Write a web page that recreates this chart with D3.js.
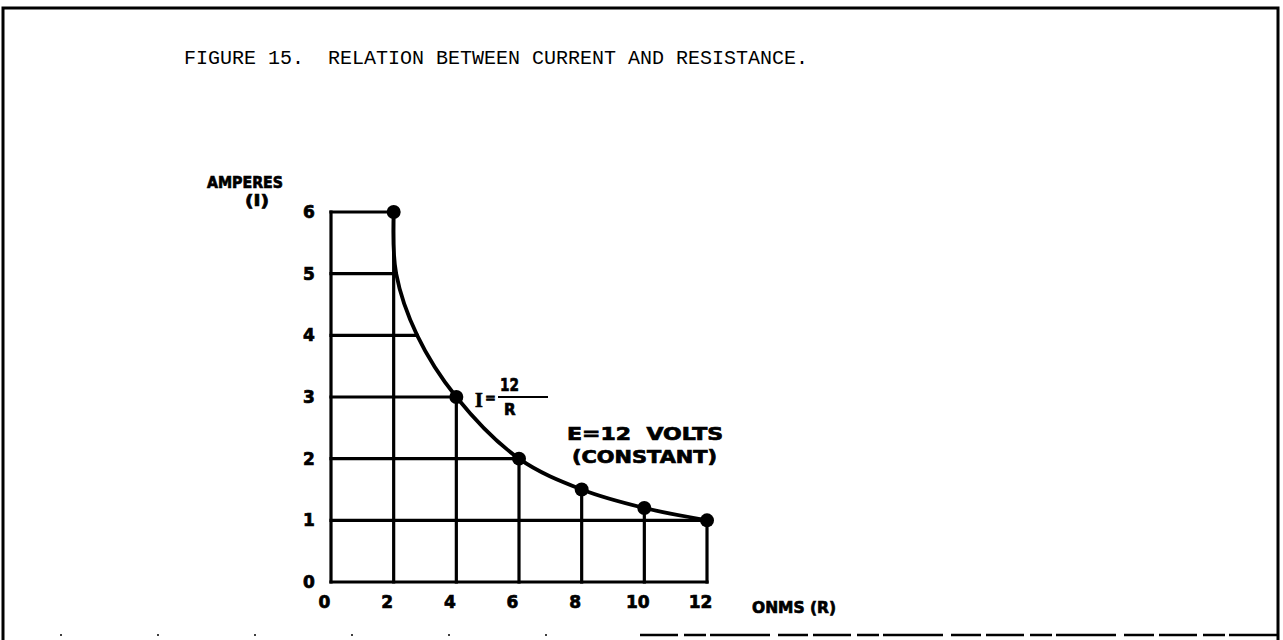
<!DOCTYPE html>
<html>
<head>
<meta charset="utf-8">
<script src="https://cdn.jsdelivr.net/npm/d3@7"></script>
<style>
  html, body { margin: 0; padding: 0; background: #fff; }
  svg { display: block; }
</style>
</head>
<body>
<svg id="chart" width="1283" height="640"></svg>
<script>
// Measured current at each resistance, E = 12 V held constant
const resistance = [2, 4, 6, 8, 10, 12];
const current = [6, 3, 2, 1.5, 1.2, 1];

// Extra points the hand-drawn curve passes through between R = 2 and R = 4
const curveKnotR = [2.08, 2.75];
const curveKnotI = [5, 4];

const xTickValues = [0, 2, 4, 6, 8, 10, 12];
const yTickValues = [0, 1, 2, 3, 4, 5, 6];

const titleText = "FIGURE 15.  RELATION BETWEEN CURRENT AND RESISTANCE.";
const yAxisTitle = "AMPERES";
const yAxisSymbol = "(I)";
const xAxisTitle = "ONMS (R)";
const noteLine1 = "E=12  VOLTS";
const noteLine2 = "(CONSTANT)";

const svg = d3.select("#chart");
const ink = "#000";
const boldFont = "'DejaVu Sans', 'Liberation Sans', sans-serif";

const x = d3.scaleLinear().domain([0, 12]).range([331, 707]);
const y = d3.scaleLinear().domain([0, 6]).range([582, 212]);

// page frame
const frame = svg.append("g").attr("stroke", ink).attr("fill", "none");
frame.append("path").attr("d", "M3,640 L3,8 L1278,8 L1278,640").attr("stroke-width", 3);
frame.append("line")
  .attr("x1", 640).attr("x2", 1278).attr("y1", 635).attr("y2", 635)
  .attr("stroke-width", 2.5).attr("stroke-dasharray", "38 6 22 4 60 8 30 5");
frame.append("line")
  .attr("x1", 60).attr("x2", 640).attr("y1", 635).attr("y2", 635)
  .attr("stroke-width", 1.5).attr("stroke-dasharray", "2 95");

// title
svg.append("text")
  .attr("x", 496).attr("y", 64)
  .attr("text-anchor", "middle")
  .attr("font-family", "'Liberation Mono', 'DejaVu Sans Mono', monospace")
  .attr("font-size", 20)
  .attr("fill", ink)
  .attr("xml:space", "preserve")
  .style("white-space", "pre")
  .text(titleText);

// curve points: data points plus the drawn knots, ordered by resistance
const curvePts = resistance.map((r, i) => ({ r, i: current[i] }))
  .concat(curveKnotR.map((r, k) => ({ r, i: curveKnotI[k] })))
  .sort((a, b) => a.r - b.r);

// resistance at which each horizontal rule meets the curve
const rowEnd = v => {
  if (v === 0) return 12;
  const p = curvePts.find(d => d.i === v);
  return p ? p.r : 0;
};

const grid = svg.append("g")
  .attr("stroke", ink)
  .attr("stroke-width", 3.2)
  .attr("stroke-linecap", "square");

// horizontal rules from the current axis out to the curve
grid.selectAll("line.h")
  .data(yTickValues)
  .join("line")
  .attr("class", "h")
  .attr("x1", x(0))
  .attr("x2", d => x(rowEnd(d)))
  .attr("y1", d => y(d))
  .attr("y2", d => y(d));

// vertical drop lines from each point down to the resistance axis
grid.selectAll("line.v")
  .data([{ r: 0, i: 6 }].concat(resistance.map((r, k) => ({ r, i: current[k] }))))
  .join("line")
  .attr("class", "v")
  .attr("x1", d => x(d.r))
  .attr("x2", d => x(d.r))
  .attr("y1", y(0))
  .attr("y2", d => y(d.i));

// the I = 12 / R curve
const line = d3.line()
  .x(d => x(d.r))
  .y(d => y(d.i))
  .curve(d3.curveCatmullRom.alpha(0.5));

svg.append("path")
  .datum(curvePts)
  .attr("d", line)
  .attr("fill", "none")
  .attr("stroke", ink)
  .attr("stroke-width", 3.8);

// measured points
svg.selectAll("circle.pt")
  .data(resistance.map((r, k) => ({ r, i: current[k] })))
  .join("circle")
  .attr("class", "pt")
  .attr("cx", d => x(d.r))
  .attr("cy", d => y(d.i))
  .attr("r", 7)
  .attr("fill", ink);

// heavy print for the lettering on the graph
const bold = (sel) => sel
  .attr("font-family", boldFont)
  .attr("font-weight", "bold")
  .attr("fill", ink)
  .attr("stroke", ink)
  .attr("stroke-width", 0.7);

// axes: labels only, the rules above already draw the frame lines
const yAxis = d3.axisLeft(y).tickValues(yTickValues).tickSize(0).tickPadding(0).tickFormat(d3.format("d"));
const yAxisG = svg.append("g").attr("transform", "translate(315,0)").call(yAxis);
yAxisG.select(".domain").remove();
yAxisG.selectAll("text").call(bold)
  .attr("font-size", 17)
  .attr("text-anchor", "middle")
  .attr("dx", -6);

const xAxis = d3.axisBottom(x).tickValues(xTickValues).tickSize(0).tickPadding(0).tickFormat(d3.format("d"));
const xAxisG = svg.append("g").attr("transform", "translate(-7,596)").call(xAxis);
xAxisG.select(".domain").remove();
xAxisG.selectAll("text").call(bold)
  .attr("font-size", 17);

// axis titles
svg.append("text").call(bold)
  .attr("x", 207).attr("y", 188)
  .attr("font-size", 16)
  .attr("textLength", 76).attr("lengthAdjust", "spacingAndGlyphs")
  .text(yAxisTitle);
svg.append("text").call(bold)
  .attr("x", 245).attr("y", 206)
  .attr("font-size", 15)
  .attr("textLength", 24).attr("lengthAdjust", "spacingAndGlyphs")
  .text(yAxisSymbol);
svg.append("text").call(bold)
  .attr("x", 752).attr("y", 613)
  .attr("font-size", 16)
  .attr("textLength", 84).attr("lengthAdjust", "spacingAndGlyphs")
  .text(xAxisTitle);

// formula label I = 12 / R
const formula = svg.append("g");
formula.append("text").call(bold)
  .attr("x", 475).attr("y", 407)
  .attr("font-size", 20)
  .attr("font-family", "'Liberation Serif', serif")
  .text("I");
formula.append("text").call(bold)
  .attr("x", 485).attr("y", 402)
  .attr("font-size", 13)
  .text("=");
formula.append("text").call(bold)
  .attr("x", 500).attr("y", 391)
  .attr("font-size", 17)
  .attr("textLength", 19).attr("lengthAdjust", "spacingAndGlyphs")
  .text("12");
formula.append("line")
  .attr("x1", 498).attr("x2", 548).attr("y1", 397).attr("y2", 397)
  .attr("stroke", ink).attr("stroke-width", 2.2);
formula.append("text").call(bold)
  .attr("x", 504).attr("y", 415)
  .attr("font-size", 15)
  .text("R");

// constant-voltage note
svg.append("text").call(bold)
  .attr("x", 567).attr("y", 440)
  .attr("font-size", 17)
  .attr("textLength", 156).attr("lengthAdjust", "spacingAndGlyphs")
  .attr("xml:space", "preserve")
  .style("white-space", "pre")
  .text(noteLine1);
svg.append("text").call(bold)
  .attr("x", 572).attr("y", 463)
  .attr("font-size", 17)
  .attr("textLength", 145).attr("lengthAdjust", "spacingAndGlyphs")
  .text(noteLine2);
</script>
</body>
</html>
